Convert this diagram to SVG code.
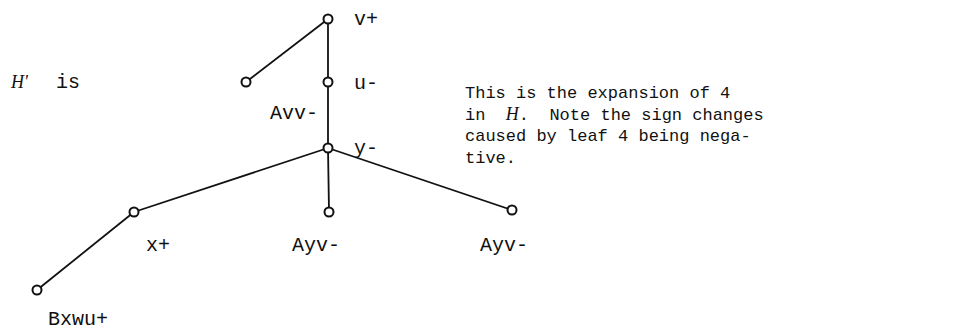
<svg xmlns="http://www.w3.org/2000/svg" width="965" height="335" viewBox="0 0 965 335">
<style>
.t{font-family:"Liberation Mono","DejaVu Sans Mono",monospace;font-size:17px;fill:#111;white-space:pre}
.l{font-family:"Liberation Mono","DejaVu Sans Mono",monospace;font-size:20px;fill:#111}
.i{font-family:"Liberation Serif",serif;font-style:italic;font-size:18px;fill:#111}
.n{fill:#fff;stroke:#111;stroke-width:2}
.e{stroke:#111;stroke-width:1.8;fill:none}
</style>
<rect width="965" height="335" fill="#fff"/>
<text class="i" x="11" y="88">H'</text>
<text class="l" x="56" y="88">is</text>
<g id="edges">
<line class="e" x1="328" y1="19" x2="246" y2="82"/>
<line class="e" x1="328" y1="19" x2="328" y2="148"/>
<line class="e" x1="328" y1="148" x2="134" y2="212"/>
<line class="e" x1="328" y1="148" x2="329" y2="212"/>
<line class="e" x1="328" y1="148" x2="512" y2="210"/>
<line class="e" x1="134" y1="212" x2="37" y2="290"/>
</g>
<g id="n_v"><circle class="n" cx="328" cy="19" r="4.5"/><text class="l" x="354" y="25">v+</text></g>
<g id="n_leaf"><circle class="n" cx="246" cy="82" r="4.5"/></g>
<g id="n_u"><circle class="n" cx="328" cy="82" r="4.5"/><text class="l" x="354" y="89">u-</text><text class="l" x="270" y="119">Avv-</text></g>
<g id="n_y"><circle class="n" cx="328" cy="148" r="4.5"/><text class="l" x="354" y="154">y-</text></g>
<g id="n_x"><circle class="n" cx="134" cy="212" r="4.5"/><text class="l" x="146" y="251">x+</text></g>
<g id="n_mid"><circle class="n" cx="329" cy="212" r="4.5"/><text class="l" x="292" y="251">Ayv-</text></g>
<g id="n_right"><circle class="n" cx="512" cy="210" r="4.5"/><text class="l" x="480" y="251">Ayv-</text></g>
<g id="n_b"><circle class="n" cx="37" cy="290" r="4.5"/><text class="l" x="48" y="325">Bxwu+</text></g>
<text class="t" x="465" y="98">This is the expansion of 4</text>
<text class="t" x="465" y="120">in  <tspan class="i">H</tspan>.  Note the sign changes</text>
<text class="t" x="465" y="141">caused by leaf 4 being nega-</text>
<text class="t" x="465" y="163">tive.</text>
</svg>
